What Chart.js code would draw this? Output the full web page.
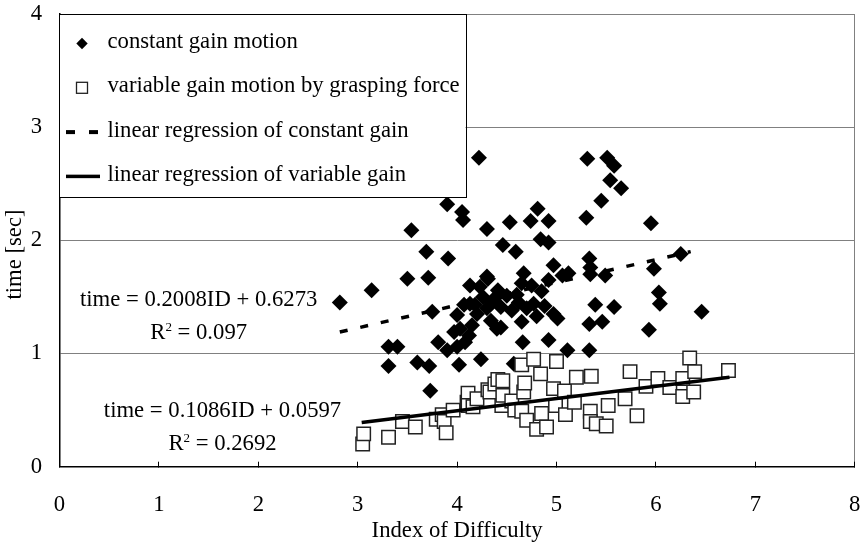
<!DOCTYPE html>
<html>
<head>
<meta charset="utf-8">
<script src="https://cdn.jsdelivr.net/npm/chart.js@4.4.1/dist/chart.umd.min.js"></script>
<style>
	body { margin: 0; background: #fff; }
	#wrap { width: 864px; height: 542px; }
</style>
</head>
<body>
<div id="wrap"><canvas id="chart-id" width="864" height="542"></canvas></div>
<script>
// constant gain motion (diamonds)
var constX = [2.82, 3.14, 3.31, 3.40, 3.31, 3.50, 3.54, 3.60, 3.69, 3.71, 3.72, 3.73, 3.75, 3.81, 3.90, 3.90, 3.91, 3.97, 4.00, 4.00,
	4.02, 4.03, 4.05, 4.06, 4.07, 4.08, 4.12, 4.13, 4.13, 4.15, 4.18, 4.20, 4.22, 4.23, 4.24, 4.26, 4.30, 4.30, 4.30, 4.31,
	4.34, 4.35, 4.39, 4.40, 4.41, 4.44, 4.44, 4.46, 4.50, 4.53, 4.55, 4.57, 4.59, 4.60, 4.62, 4.65, 4.65, 4.66, 4.67, 4.70,
	4.74, 4.75, 4.77, 4.80, 4.81, 4.84, 4.85, 4.88, 4.92, 4.92, 4.92, 4.92, 4.97, 4.97, 5.01, 5.06, 5.11, 5.12, 5.30, 5.31,
	5.33, 5.34, 5.33, 5.33, 5.34, 5.39, 5.45, 5.46, 5.49, 5.51, 5.54, 5.58, 5.58, 5.65, 5.93, 5.95, 5.98, 6.03, 6.04, 6.25, 6.46];
var constY = [1.45, 1.56, 1.06, 1.06, 0.89, 1.66, 2.09, 0.92, 1.90, 1.67, 0.89, 0.67, 1.37, 1.10, 2.32, 1.03, 1.84, 1.19, 1.06, 1.34,
	0.90, 1.22, 2.25, 2.18, 1.43, 1.10, 1.16, 1.60, 1.44, 1.25, 1.43, 1.35, 2.73, 1.59, 0.95, 1.50, 2.10, 1.68, 1.40, 1.66,
	1.29, 1.45, 1.50, 1.22, 1.56, 1.41, 1.23, 1.96, 1.51, 2.16, 1.38, 0.91, 1.90, 1.52, 1.45, 1.62, 1.28, 1.10, 1.71, 1.40,
	2.17, 1.60, 1.44, 1.33, 2.28, 2.01, 1.55, 1.42, 2.17, 1.98, 1.65, 1.12, 1.78, 1.35, 1.31, 1.69, 1.03, 1.71, 2.20, 2.72,
	1.84, 1.76, 1.26, 1.03, 1.70, 1.43, 2.35, 1.28, 1.69, 2.73, 2.53, 2.66, 1.41, 2.46, 1.21, 2.15, 1.75, 1.54, 1.44, 1.88, 1.37];

// variable gain motion by grasping force (squares)
var varX = [3.05, 3.06, 3.31, 3.45, 3.58, 3.79, 3.85, 3.87, 3.89, 3.96, 4.10, 4.11, 4.11, 4.16, 4.20, 4.31, 4.33, 4.38, 4.41, 4.45,
	4.46, 4.46, 4.55, 4.58, 4.65, 4.65, 4.67, 4.68, 4.70, 4.77, 4.80, 4.84, 4.85, 4.90, 4.97, 4.99, 5.00, 5.08, 5.09, 5.18,
	5.20, 5.34, 5.34, 5.35, 5.40, 5.50, 5.52, 5.69, 5.74, 5.81, 5.90, 6.02, 6.14, 6.27, 6.27, 6.34, 6.38, 6.39, 6.73];
var varY = [0.20, 0.29, 0.26, 0.40, 0.35, 0.42, 0.46, 0.40, 0.30, 0.50, 0.57, 0.65, 0.54, 0.53, 0.60, 0.68, 0.66, 0.73, 0.77, 0.54,
	0.76, 0.63, 0.58, 0.50, 0.90, 0.49, 0.66, 0.74, 0.41, 0.95, 0.33, 0.82, 0.47, 0.35, 0.69, 0.54, 0.93, 0.67, 0.46, 0.57,
	0.79, 0.49, 0.40, 0.80, 0.38, 0.36, 0.54, 0.60, 0.84, 0.45, 0.71, 0.78, 0.70, 0.78, 0.62, 0.96, 0.66, 0.84, 0.85];

// trend line end points
var regConstX = [2.82, 6.35];
var regConstY = [1.19, 1.90];
var regVarX = [3.04, 6.74];
var regVarY = [0.39, 0.79];

var legendLabels = ['constant gain motion', 'variable gain motion by grasping force',
	'linear regression of constant gain', 'linear regression of variable gain'];

var FONT = 'Liberation Serif';
var FSIZE = 22.7;

function toPoints(xs, ys) {
	return xs.map((x, i) => ({x: x, y: ys[i]}));
}

// fixed axis sizes, no extra label padding around the plot
function fixScale(s, size) {
	if (s.isHorizontal()) s.height = size;
	else s.width = size;
	s.paddingTop = 0;
	s.paddingBottom = 0;
	s.paddingLeft = 0;
	s.paddingRight = 0;
}

// legend box in the top left corner of the plot
var legendBox = {
	id: 'legendBox',
	afterDraw: function(chart) {
		var ctx = chart.ctx;
		var a = chart.chartArea;
		var left = a.left - 1, top = a.top, w = 407, h = 183;
		ctx.save();
		ctx.fillStyle = '#fff';
		ctx.fillRect(left, top, w, h);
		ctx.strokeStyle = '#000';
		ctx.lineWidth = 1;
		ctx.strokeRect(Math.round(left) + 0.5, Math.round(top) + 0.5, w, h);

		var ix = left + 23.5;
		ctx.font = FSIZE + 'px "' + FONT + '"';
		ctx.textBaseline = 'alphabetic';
		ctx.textAlign = 'left';
		for (var i = 0; i < legendLabels.length; i++) {
			var iy = top + 29.5 + 44.3 * i;
			if (i == 0) {
				ctx.fillStyle = '#000';
				ctx.beginPath();
				ctx.moveTo(ix, iy - 5.7); ctx.lineTo(ix + 5.7, iy);
				ctx.lineTo(ix, iy + 5.7); ctx.lineTo(ix - 5.7, iy);
				ctx.closePath();
				ctx.fill();
			} else if (i == 1) {
				ctx.strokeStyle = '#222';
				ctx.lineWidth = 1.3;
				ctx.strokeRect(ix - 5.5, iy - 5.5, 11, 11);
			} else if (i == 2) {
				ctx.fillStyle = '#000';
				ctx.fillRect(ix - 16, iy - 2, 9, 4);
				ctx.fillRect(ix + 7, iy - 2, 9, 4);
			} else {
				ctx.fillStyle = '#000';
				ctx.fillRect(ix - 16, iy - 1.75, 34, 3.5);
			}
			ctx.fillStyle = '#000';
			ctx.fillText(legendLabels[i], left + 49, iy + 4.5);
		}
		ctx.restore();
	}
};

// regression equations next to the trend lines
var equations = [
	{text: 'time = 0.2008ID + 0.6273', r2: '0.097', x: 1.40, y: 1.42, y2: 1.13},
	{text: 'time = 0.1086ID + 0.0597', r2: '0.2692', x: 1.64, y: 0.44, y2: 0.147}
];

var equationText = {
	id: 'equationText',
	afterDatasetsDraw: function(chart) {
		var ctx = chart.ctx;
		var xs = chart.scales.x, ys = chart.scales.y;
		ctx.save();
		ctx.fillStyle = '#000';
		ctx.textBaseline = 'alphabetic';
		ctx.textAlign = 'left';
		for (var e of equations) {
			var cx = xs.getPixelForValue(e.x);
			ctx.font = FSIZE + 'px "' + FONT + '"';
			var w = ctx.measureText(e.text).width;
			ctx.fillText(e.text, cx - w / 2, ys.getPixelForValue(e.y));

			// R^2 line
			var wR = ctx.measureText('R').width;
			var rest = ' = ' + e.r2;
			var wRest = ctx.measureText(rest).width;
			ctx.font = '13px "' + FONT + '"';
			var w2 = ctx.measureText('2').width;
			var x0 = cx - (wR + w2 + wRest) / 2;
			var by = ys.getPixelForValue(e.y2);
			ctx.font = FSIZE + 'px "' + FONT + '"';
			ctx.fillText('R', x0, by);
			ctx.fillText(rest, x0 + wR + w2, by);
			ctx.font = '13px "' + FONT + '"';
			ctx.fillText('2', x0 + wR, by - 8);
		}
		ctx.restore();
	}
};

var ctx = document.getElementById('chart-id').getContext('2d');
var chart = new Chart(ctx, {
	type: 'scatter',
	data: {
		datasets: [{
			label: legendLabels[2],
			type: 'line',
			data: toPoints(regConstX, regConstY),
			borderColor: '#000',
			borderWidth: 3.5,
			borderDash: [8, 13],
			pointRadius: 0,
			showLine: true,
			order: 0
		}, {
			label: legendLabels[3],
			type: 'line',
			data: toPoints(regVarX, regVarY),
			borderColor: '#000',
			borderWidth: 3.5,
			pointRadius: 0,
			showLine: true,
			order: 0
		}, {
			label: legendLabels[1],
			data: toPoints(varX, varY),
			pointStyle: 'rect',
			pointRadius: 9.5,
			backgroundColor: '#fff',
			borderColor: '#222',
			borderWidth: 1.5,
			order: 1
		}, {
			label: legendLabels[0],
			data: toPoints(constX, constY),
			pointStyle: 'rectRot',
			pointRadius: 8,
			backgroundColor: '#000',
			borderWidth: 0,
			order: 2
		}]
	},
	options: {
		responsive: false,
		animation: false,
		events: [],
		layout: { autoPadding: false, padding: { top: 14, right: 9.3, left: 0, bottom: 0 } },
		plugins: {
			legend: { display: false },
			tooltip: { enabled: false }
		},
		scales: {
			x: {
				type: 'linear',
				min: 0,
				max: 8,
				afterFit: function(s) { fixScale(s, 75.3); },
				ticks: { stepSize: 1, color: '#000', padding: 29.5, font: { family: FONT, size: FSIZE } },
				grid: {
					color: c => (c.tick && c.tick.value === 8) ? '#808080' : 'rgba(0,0,0,0)',
					tickColor: '#000',
					tickLength: -5,
					tickWidth: 1
				},
				border: { color: '#000', width: 1.5 },
				title: { display: true, text: 'Index of Difficulty', color: '#000', padding: 0, font: { family: FONT, size: FSIZE, lineHeight: 1.0 } }
			},
			y: {
				min: 0,
				max: 4,
				afterFit: function(s) { fixScale(s, 59.5); },
				ticks: { stepSize: 1, color: '#000', padding: 17.5, font: { family: FONT, size: FSIZE } },
				grid: {
					color: c => (c.tick && c.tick.value === 0) ? 'rgba(0,0,0,0)' : '#808080',
					drawTicks: false
				},
				border: { color: '#000', width: 1.5 },
				title: { display: true, text: 'time [sec]     ', color: '#000', padding: { top: 1.4, bottom: 0 }, font: { family: FONT, size: FSIZE } }
			}
		}
	},
	plugins: [equationText, legendBox]
});
</script>
</body>
</html>
